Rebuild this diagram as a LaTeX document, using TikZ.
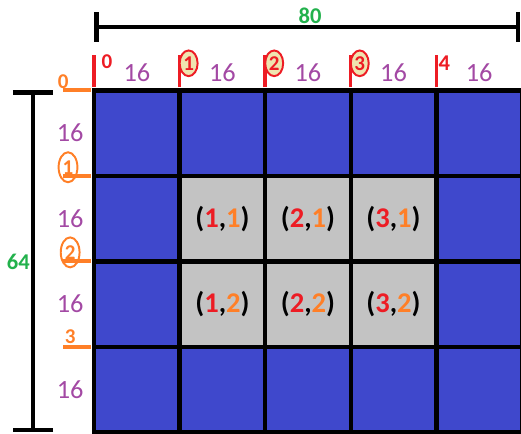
\documentclass[tikz,border=0pt]{standalone}
\usepackage{fontspec}
\setmainfont{Carlito}
\usetikzlibrary{arrows.meta, shapes.geometric}

\definecolor{pRed}{RGB}{237,28,36}
\definecolor{pOrange}{RGB}{255,127,39}
\definecolor{pPurple}{RGB}{163,73,164}
\definecolor{pGreen}{RGB}{34,177,76}
\definecolor{pBlue}{RGB}{63,72,204}
\definecolor{pGray}{RGB}{195,195,195}
\definecolor{pBeige}{RGB}{239,228,176}

\begin{document}
\begin{tikzpicture}[
  cell/.style={draw, line width=3pt, minimum size=2cm, inner sep=0pt, outer sep=0pt},
  pair/.style={font=\fontsize{19}{22}\selectfont\bfseries},
  len/.style={font=\fontsize{17.5}{20}\selectfont, text=pPurple},
  dim/.style={font=\fontsize{15}{18}\selectfont\bfseries, text=pGreen},
  dimline/.style={line width=3pt},
  idx/.style={font=\fontsize{14}{16}\selectfont\bfseries, inner sep=0pt},
  rcirc/.style={idx, text=pRed, draw=pRed, fill=pBeige, ellipse, line width=1.3pt,
                minimum width=0.42cm, minimum height=0.6cm},
  ocirc/.style={idx, text=pOrange, draw=pOrange, ellipse, line width=1.3pt,
                minimum width=0.44cm, minimum height=0.7cm},
  redtick/.style={pRed, line width=2.3pt},
  oratick/.style={pOrange, line width=2.5pt},
]

\useasboundingbox (0,0) rectangle (12.18,10.13);

% Grid of blue cells
\foreach \i in {0,...,4}
  \foreach \j in {0,...,3}
    \node[cell, fill=pBlue] (c\i\j) at (3.2+2*\i, 7.02-2*\j) {};

% Inner gray cells with (x,y) pairs
\foreach \i in {1,2,3}
  \foreach \j in {1,2}
    \node[cell, fill=pGray, pair] (g\i\j) at (3.2+2*\i, 7.02-2*\j)
      {(\textcolor{pRed}{\i},\textcolor{pOrange}{\j})};

% === Top: width 80 and column ticks ===
\coordinate (t0) at (2.2,9.5);
\coordinate (t1) at (12.16,9.5);
\draw[dimline, {Bar[width=0.7cm]}-{Bar[width=0.7cm]}] (t0) -- (t1);
\node[dim] (wtot) at (7.25,9.75) {80};

\foreach \i in {0,...,4}
  \draw[redtick] ([yshift=0.07cm]c\i0.north west) -- ++(0,0.76);

\node[idx, text=pRed] (x0) at (2.5,8.68) {0};
\node[rcirc] (x1) at (4.41,8.65) {1};
\node[rcirc] (x2) at (6.41,8.65) {2};
\node[rcirc] (x3) at (8.41,8.65) {3};
\node[idx, text=pRed, font=\fontsize{15}{17}\selectfont\bfseries] (x4) at (10.39,8.66) {4};

\foreach \i in {0,...,4}
  \node[len] (w\i) at (3.2+2*\i, 8.42) {16};

% === Left: height 64 and row ticks ===
\coordinate (l0) at (0.77,8.02);
\coordinate (l1) at (0.77,0.02);
\draw[dimline, {Bar[width=0.94cm]}-{Bar[width=0.94cm]}] (l0) -- (l1);
\node[dim] (htot) at (0.43,4.0) {64};

\foreach \j in {0,...,3}
  \draw[oratick] ([xshift=-0.07cm]c0\j.north west) -- ++(-0.66,0);

\node[idx, text=pOrange] (y0) at (1.48,8.23) {0};
\node[ocirc] (y1) at (1.59,6.22) {1};
\node[ocirc] (y2) at (1.64,4.23) {2};
\node[idx, text=pOrange] (y3) at (1.64,2.25) {3};

\foreach \j in {0,...,3}
  \node[len] (h\j) at (1.64, 7.02-2*\j) {16};

\end{tikzpicture}
\end{document}
